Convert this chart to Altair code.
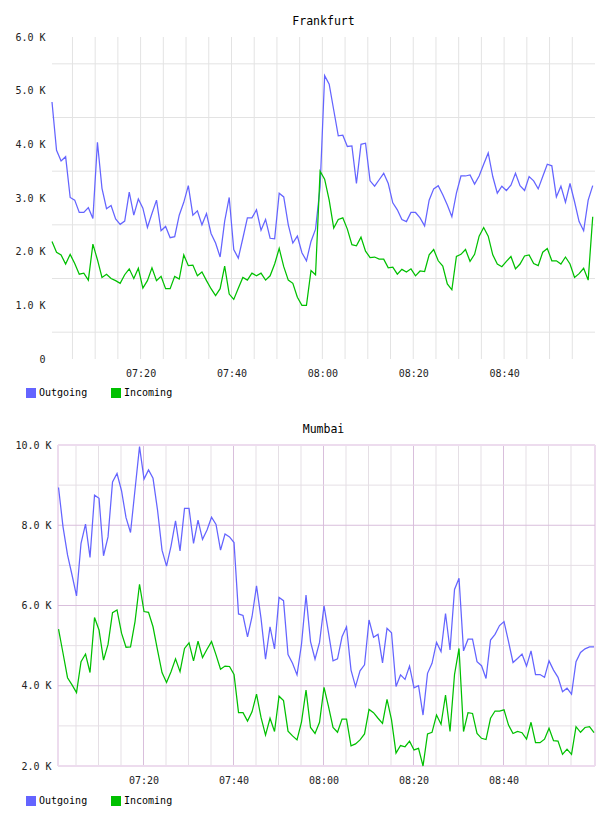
import altair as alt
import pandas as pd

FONT = "DejaVu Sans Mono"
SERIES = ["Outgoing", "Incoming"]
COLORS = ["#6464ff", "#00c000"]

# values in thousands, one sample per minute
fra_out = [4.79, 3.89, 3.69, 3.77, 3.01, 2.96, 2.73, 2.73, 2.82, 2.62,
           4.04, 3.18, 2.80, 2.86, 2.61, 2.51, 2.57, 3.11, 2.68, 2.98,
           2.81, 2.45, 2.71, 2.96, 2.39, 2.47, 2.26, 2.28, 2.68, 2.92,
           3.23, 2.68, 2.76, 2.50, 2.71, 2.34, 2.16, 1.90, 2.57, 3.01,
           2.04, 1.88, 2.25, 2.63, 2.63, 2.78, 2.40, 2.60, 2.25, 2.24,
           3.09, 3.02, 2.50, 2.16, 2.29, 1.98, 1.83, 2.19, 2.42, 3.20,
           5.28, 5.12, 4.64, 4.16, 4.17, 3.96, 3.97, 3.27, 4.00, 4.02,
           3.32, 3.22, 3.34, 3.46, 3.27, 2.91, 2.78, 2.60, 2.56, 2.73,
           2.73, 2.63, 2.48, 2.96, 3.17, 3.23, 3.06, 2.87, 2.65, 3.09,
           3.41, 3.41, 3.43, 3.26, 3.41, 3.63, 3.84, 3.40, 3.09, 3.22,
           3.14, 3.24, 3.46, 3.23, 3.14, 3.40, 3.32, 3.17, 3.40, 3.63,
           3.60, 3.02, 3.22, 2.92, 3.27, 2.93, 2.56, 2.39, 2.96, 3.23]
fra_in = [2.19, 1.99, 1.94, 1.77, 1.95, 1.78, 1.58, 1.60, 1.47, 2.14,
          1.85, 1.52, 1.58, 1.50, 1.46, 1.41, 1.57, 1.68, 1.50, 1.69,
          1.32, 1.46, 1.70, 1.46, 1.54, 1.31, 1.31, 1.54, 1.49, 1.94,
          1.74, 1.75, 1.55, 1.62, 1.46, 1.31, 1.18, 1.31, 1.73, 1.21,
          1.11, 1.32, 1.52, 1.47, 1.60, 1.55, 1.60, 1.47, 1.55, 1.77,
          2.06, 1.72, 1.47, 1.41, 1.15, 1.00, 1.00, 1.65, 1.57, 3.50,
          3.35, 2.96, 2.44, 2.60, 2.63, 2.42, 2.13, 2.11, 2.27, 2.01,
          1.89, 1.90, 1.86, 1.86, 1.70, 1.71, 1.58, 1.67, 1.62, 1.68,
          1.55, 1.64, 1.63, 1.94, 2.04, 1.83, 1.73, 1.40, 1.29, 1.91,
          1.95, 2.04, 1.82, 1.95, 2.29, 2.45, 2.29, 1.94, 1.77, 1.72,
          1.82, 1.91, 1.68, 1.77, 1.92, 1.94, 1.78, 1.74, 1.99, 2.06,
          1.83, 1.83, 1.77, 1.90, 1.77, 1.52, 1.59, 1.69, 1.47, 2.65]
mum_out = [8.94, 7.96, 7.26, 6.76, 6.24, 7.55, 8.03, 7.20, 8.75, 8.67,
           7.24, 7.71, 9.08, 9.29, 8.86, 8.19, 7.82, 8.89, 9.96, 9.15,
           9.38, 9.17, 8.38, 7.38, 6.98, 7.48, 8.11, 7.36, 8.42, 8.42,
           7.55, 8.13, 7.65, 7.88, 8.20, 8.02, 7.38, 7.78, 7.71, 7.57,
           5.79, 5.75, 5.22, 5.72, 6.49, 5.68, 4.66, 5.47, 4.92, 6.20,
           6.12, 4.78, 4.56, 4.27, 5.04, 6.26, 5.10, 4.66, 5.08, 5.99,
           5.32, 4.62, 4.67, 5.22, 5.47, 4.39, 3.98, 4.37, 4.52, 5.64,
           5.21, 5.28, 4.57, 5.43, 5.32, 3.98, 4.27, 4.16, 4.49, 3.95,
           4.00, 3.27, 4.31, 4.56, 5.08, 4.85, 5.80, 4.89, 6.40, 6.68,
           4.87, 5.16, 5.16, 4.60, 4.50, 4.18, 5.14, 5.28, 5.50, 5.60,
           5.10, 4.58, 4.68, 4.79, 4.49, 4.87, 4.28, 4.28, 4.21, 4.62,
           4.39, 4.21, 3.85, 3.94, 3.79, 4.60, 4.83, 4.92, 4.97, 4.97]
mum_in = [5.41, 4.81, 4.20, 4.02, 3.83, 4.60, 4.79, 4.33, 5.70, 5.39,
          4.64, 5.03, 5.82, 5.89, 5.31, 4.96, 4.97, 5.60, 6.53, 5.85,
          5.83, 5.47, 4.89, 4.33, 4.08, 4.35, 4.67, 4.35, 4.93, 5.07,
          4.62, 5.11, 4.70, 4.91, 5.10, 4.77, 4.41, 4.49, 4.48, 4.28,
          3.33, 3.33, 3.12, 3.35, 3.79, 3.21, 2.77, 3.19, 2.86, 3.74,
          3.63, 2.87, 2.75, 2.65, 3.10, 3.89, 2.96, 2.81, 3.09, 3.96,
          3.48, 2.96, 2.84, 3.17, 3.17, 2.50, 2.55, 2.65, 2.80, 3.41,
          3.33, 3.19, 3.06, 3.66, 3.15, 2.32, 2.51, 2.48, 2.62, 2.40,
          2.44, 2.00, 2.80, 2.84, 3.27, 3.04, 3.77, 2.86, 4.28, 4.93,
          2.86, 3.33, 3.31, 2.81, 2.69, 2.66, 3.19, 3.37, 3.37, 3.40,
          3.02, 2.81, 2.86, 2.83, 2.67, 3.09, 2.58, 2.58, 2.67, 2.94,
          2.63, 2.62, 2.29, 2.42, 2.29, 2.98, 2.84, 2.96, 2.98, 2.83]

# time-axis labels and grid positions (hour, minute)
label_times = [(7, 20), (7, 40), (8, 0), (8, 20), (8, 40)]
grid_times = [(7, m) for m in range(5, 60, 5)] + [(8, m) for m in range(0, 60, 5)]
fra_yticks = [0, 1, 2, 3, 4, 5, 6]
fra_ygrid = [0.5, 1.5, 2.5, 3.5, 4.5, 5.5]
mum_yticks = [2, 4, 6, 8, 10]
mum_ygrid_major = [4, 6, 8]
mum_ygrid_minor = [3, 5, 7, 9]
mum_frame_y = [2, 10]

BASE = pd.Timestamp("2024-01-01T00:00:00Z")


def ms(h, m, s=0):
    return int((BASE + pd.Timedelta(hours=h, minutes=m, seconds=s)).value // 10**6)


def frame(start, out_vals, in_vals):
    rows = []
    for name, vals in zip(SERIES, [out_vals, in_vals]):
        for k, v in enumerate(vals):
            rows.append({"t": start + k * 60000, "v": v, "series": name})
    return pd.DataFrame(rows)


def panel(title, df, xdom, xrange, ydom, yvals, yoffset, vgrids, hgrids,
          width, height):
    xs = alt.Scale(type="utc", domain=xdom, nice=False, range=xrange)
    ys = alt.Scale(domain=ydom, nice=False, zero=False)
    xa = alt.Axis(values=[ms(h, m) for h, m in label_times],
                  labelExpr="utcFormat(datum.value, '%H:%M')",
                  title=None, grid=False, ticks=False, domain=False,
                  labelFont=FONT, labelFontSize=10, labelColor="#222",
                  labelPadding=9, labelFlush=False)
    ya = alt.Axis(values=yvals,
                  labelExpr="datum.value == 0 ? '0' : format(datum.value, '.1f') + ' K'",
                  title=None, grid=False, ticks=False, domain=False,
                  labelFont=FONT, labelFontSize=10, labelColor="#222",
                  labelPadding=7, offset=yoffset)
    layers = []
    for times, color, sw in vgrids:
        gdf = pd.DataFrame({"t": times})
        layers.append(alt.Chart(gdf).mark_rule(color=color, strokeWidth=sw)
                      .encode(x=alt.X("t:T", scale=xs, axis=xa)))
    for vals, color, sw in hgrids:
        gdf = pd.DataFrame({"v": vals, "t1": xdom[0], "t2": xdom[1]})
        layers.append(alt.Chart(gdf).mark_rule(color=color, strokeWidth=sw)
                      .encode(x=alt.X("t1:T", scale=xs, axis=xa), x2="t2:T",
                              y=alt.Y("v:Q", scale=ys, axis=ya)))
    line = alt.Chart(df).mark_line(strokeWidth=1.25).encode(
        x=alt.X("t:T", scale=xs, axis=xa),
        y=alt.Y("v:Q", scale=ys, axis=ya),
        color=alt.Color("series:N",
                        scale=alt.Scale(domain=SERIES, range=COLORS),
                        sort=SERIES,
                        legend=alt.Legend(orient="none", legendX=-26,
                                          legendY=351, direction="horizontal",
                                          title=None, symbolType="square",
                                          symbolSize=16, symbolStrokeWidth=6,
                                          labelFont=FONT, labelFontSize=10,
                                          labelColor="#000", labelOffset=3,
                                          columnPadding=14)),
    )
    layers.append(line)
    return alt.layer(*layers).properties(
        width=width, height=height,
        title=alt.Title(title, font=FONT, fontSize=11.5, fontWeight="normal",
                        color="#000", offset=4.5),
        view=alt.ViewBackground(stroke="transparent", strokeWidth=0),
    )


fra_df = frame(ms(7, 0, 30), fra_out, fra_in)
mum_df = frame(ms(7, 1, 7), mum_out, mum_in)

fra_dom = [ms(7, 0, 30), ms(9, 0, 0)]
mum_dom = [ms(7, 1, 0), ms(9, 0, 20)]

major_ms = [ms(h, m) for h, m in grid_times if m % 20 == 0]
minor_ms = [ms(h, m) for h, m in grid_times if m % 20 != 0]
all_ms = [ms(h, m) for h, m in grid_times]

GRID = "#e3e3e3"
MINOR = "#e5dfe5"
MAJOR = "#d9bfdc"
BORDER = "#eddcee"

fra = panel("Frankfurt", fra_df, fra_dom, [0, 543], [0, 6], fra_yticks, 0,
            [(all_ms, GRID, 1)], [(fra_ygrid, GRID, 1)], 543, 322)
mum = panel("Mumbai", mum_df, mum_dom, [6, 543], [2, 10], mum_yticks, -6,
            [(minor_ms, MINOR, 1), (major_ms, MAJOR, 1), (mum_dom, BORDER, 2)],
            [(mum_ygrid_minor, MINOR, 1), (mum_ygrid_major, MAJOR, 1),
             (mum_frame_y, BORDER, 2)],
            543, 321)

chart = alt.ConcatChart(concat=[fra, mum], columns=1, spacing=17).resolve_legend(
    color="independent").properties(
    padding={"left": 14, "top": 16, "right": 0, "bottom": 0},
    background="white",
)

chart.save("out.html", embed_options={"renderer": "svg", "actions": False})
